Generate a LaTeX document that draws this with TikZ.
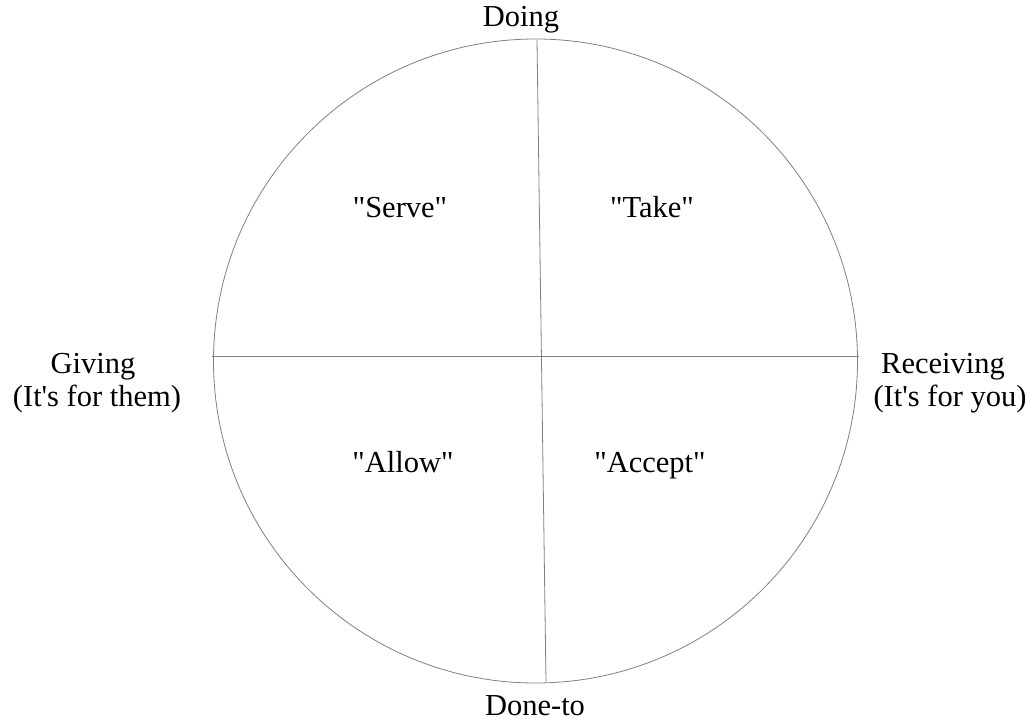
\documentclass[tikz,border=0pt]{standalone}
\usepackage{fontspec}
% plain family, without the TeX quote mapping, so quotes stay straight
\newfontfamily\labelfont{Liberation Serif}
\begin{document}
\begin{tikzpicture}[x=1pt,y=-1pt,
  rule/.style={draw=black!50,line width=0.8pt},
  lbl/.style={inner sep=0pt,anchor=base,font=\labelfont\fontsize{30.5}{35}\selectfont}]
\useasboundingbox (0,0) rectangle (1036,725);
% outer circle
\node[rule,circle,minimum size=644pt,inner sep=0pt] (ring) at (535.5,361) {};
% axes
\coordinate (top) at (537,40);
\coordinate (bot) at (546,682);
\coordinate (lft) at (212,356);
\coordinate (rgt) at (859,356);
\draw[rule] (top) -- (bot);
\draw[rule] (lft) -- (rgt);
% axis labels
\node[lbl] (doing) at (521,27) {Doing};
\node[lbl] (doneto) at (535,715) {Done-to};
\node[lbl] (giving) at (93,373) {Giving};
\node[lbl] (givingsub) at (97,406) {(It's for them)};
\node[lbl] (recv) at (943,373) {Receiving};
\node[lbl] (recvsub) at (950,406) {(It's for you)};
% quadrant labels
\node[lbl] (serve) at (400,217) {"Serve"};
\node[lbl] (take) at (652,217) {"Take"};
\node[lbl] (allow) at (403,472) {"Allow"};
\node[lbl] (accept) at (650,472) {"Accept"};
\end{tikzpicture}
\end{document}
